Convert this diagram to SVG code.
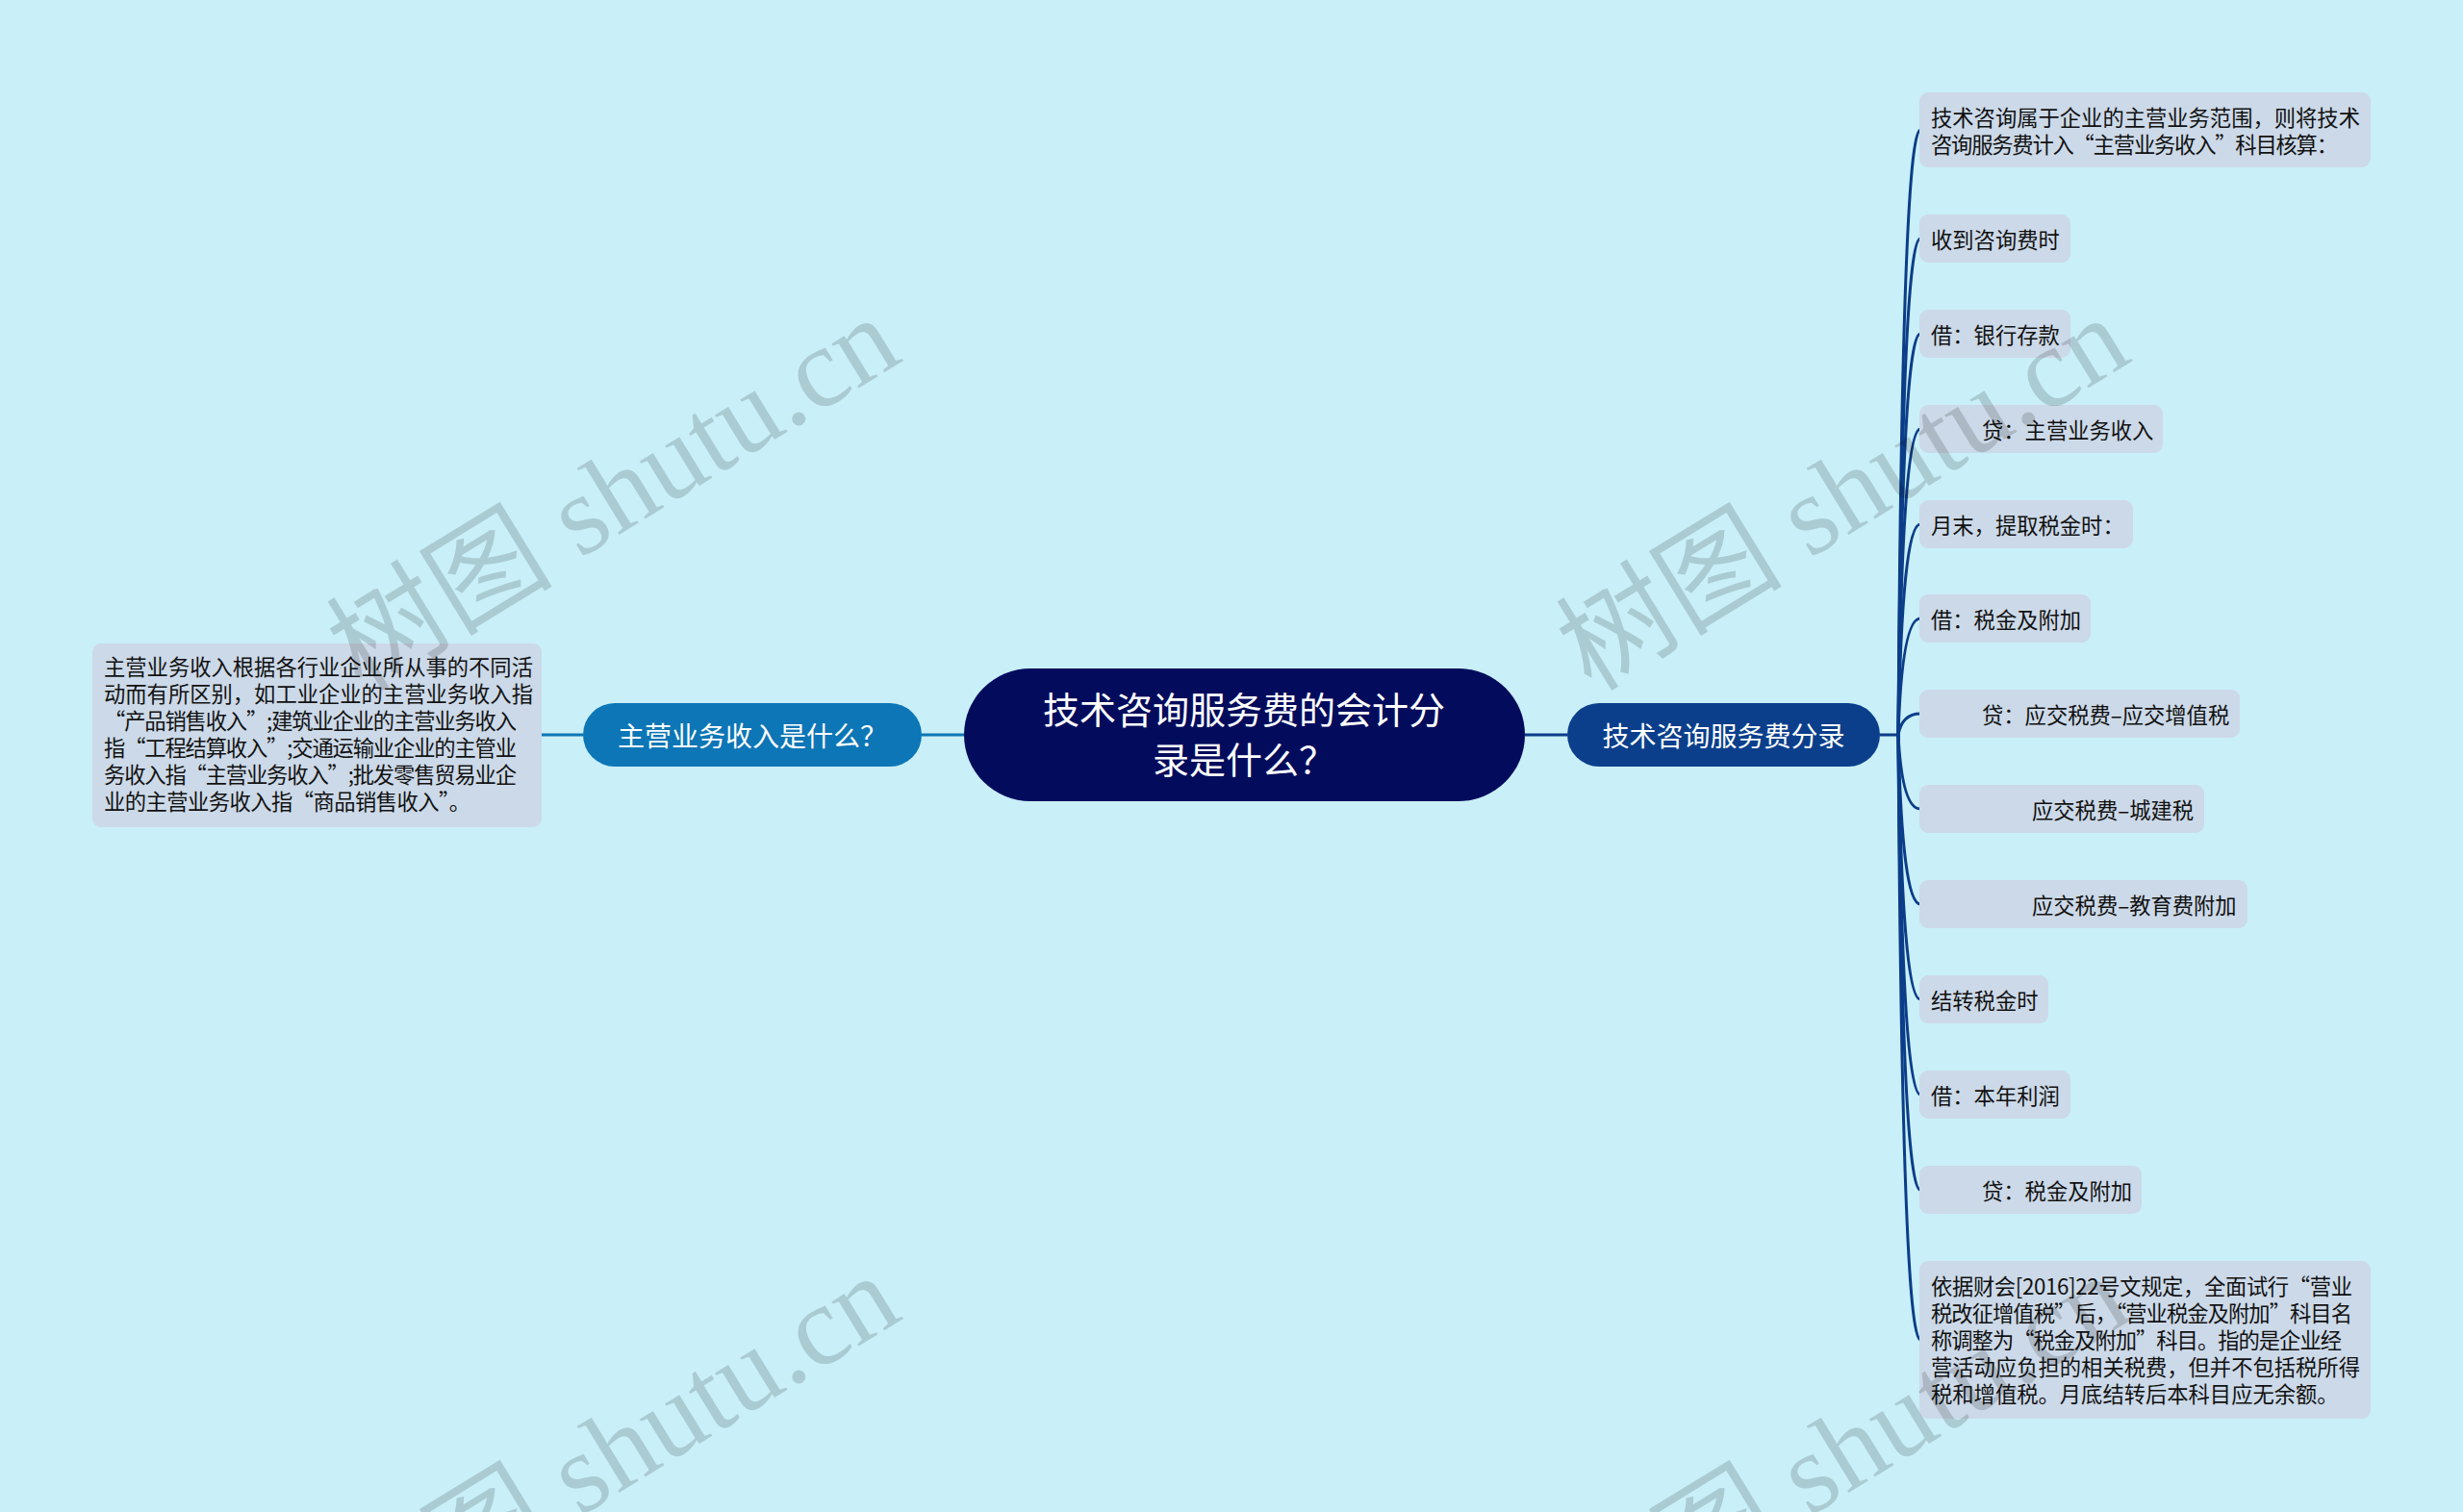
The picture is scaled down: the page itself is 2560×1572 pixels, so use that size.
<svg xmlns="http://www.w3.org/2000/svg" width="2560" height="1572" viewBox="0 0 2560 1572">
<style>
text{font-family:"Noto Sans CJK SC","Noto Sans",sans-serif}
.leaf{fill:#ccd9e8}
.lt{font-size:22.3px;fill:#111}
.mt{font-size:28px;fill:#fff}
.ct{font-size:38px;fill:#fff}
.rl{fill:none;stroke:#0b3d88;stroke-width:3}
.ll{fill:none;stroke:#0e76b6;stroke-width:3}
.wm{font-family:"Liberation Serif","Noto Sans CJK SC",serif;font-size:118px;fill:#000;fill-opacity:0.15}
</style>
<rect width="2560" height="1572" fill="#c9eff8"/>
<g id="connectors">
<path class="ll" d="M563 764H606M958 764H1002"/>
<path class="rl" d="M1585 764H1629M1954 764H1973"/>
<path class="rl" d="M1973 764Q1977 135 1996 135"/>
<path class="rl" d="M1973 764Q1977 248 1996 248"/>
<path class="rl" d="M1973 764Q1977 347 1996 347"/>
<path class="rl" d="M1973 764Q1977 446 1996 446"/>
<path class="rl" d="M1973 764Q1977 545 1996 545"/>
<path class="rl" d="M1973 764Q1977 643 1996 643"/>
<path class="rl" d="M1973 764Q1977 742 1996 742"/>
<path class="rl" d="M1973 764Q1977 841 1996 841"/>
<path class="rl" d="M1973 764Q1977 940 1996 940"/>
<path class="rl" d="M1973 764Q1977 1039 1996 1039"/>
<path class="rl" d="M1973 764Q1977 1138 1996 1138"/>
<path class="rl" d="M1973 764Q1977 1237 1996 1237"/>
<path class="rl" d="M1973 764Q1977 1393 1996 1393"/>
</g>
<g id="center">
<rect x="1002" y="695" width="583" height="138" rx="69" fill="#030c5c"/>
<text class="ct" x="1293" y="735" text-anchor="middle" dominant-baseline="central">技术咨询服务费的会计分</text>
<text class="ct" x="1293" y="787" text-anchor="middle" dominant-baseline="central">录是什么？</text>
</g>
<g id="main-left">
<rect x="606" y="731" width="352" height="66" rx="33" fill="#0d76b6"/>
<text class="mt" x="782" y="764" text-anchor="middle" dominant-baseline="central">主营业务收入是什么？</text>
</g>
<g id="main-right">
<rect x="1629" y="731" width="325" height="66" rx="33" fill="#0b3f8c"/>
<text class="mt" x="1791.5" y="764" text-anchor="middle" dominant-baseline="central">技术咨询服务费分录</text>
</g>
<g id="leaf-left">
<rect class="leaf" x="96" y="669" width="467" height="191" rx="9"/>
<text class="lt" x="108" y="692" dominant-baseline="central">主营业务收入根据各行业企业所从事的不同活</text>
<text class="lt" x="108" y="720" dominant-baseline="central">动而有所区别，如工业企业的主营业务收入指</text>
<text class="lt" x="108" y="748" dominant-baseline="central" textLength="429" lengthAdjust="spacing">“产品销售收入”;建筑业企业的主营业务收入</text>
<text class="lt" x="108" y="776" dominant-baseline="central" textLength="429" lengthAdjust="spacing">指“工程结算收入”;交通运输业企业的主管业</text>
<text class="lt" x="108" y="804" dominant-baseline="central" textLength="429" lengthAdjust="spacing">务收入指“主营业务收入”;批发零售贸易业企</text>
<text class="lt" x="108" y="832" dominant-baseline="central" textLength="381" lengthAdjust="spacing">业的主营业务收入指“商品销售收入”。</text>
</g>
<g id="leaf-r1">
<rect class="leaf" x="1995" y="96" width="469" height="78" rx="9"/>
<text class="lt" x="2007" y="120.5" dominant-baseline="central">技术咨询属于企业的主营业务范围，则将技术</text>
<text class="lt" x="2007" y="148.5" dominant-baseline="central" textLength="423" lengthAdjust="spacing">咨询服务费计入“主营业务收入”科目核算：</text>
</g>
<g id="leaf-r2"><rect class="leaf" x="1995" y="223" width="157" height="50" rx="9"/><text class="lt" x="2007" y="248" dominant-baseline="central">收到咨询费时</text></g>
<g id="leaf-r3"><rect class="leaf" x="1995" y="322" width="157" height="50" rx="9"/><text class="lt" x="2007" y="347" dominant-baseline="central">借：银行存款</text></g>
<g id="leaf-r4"><rect class="leaf" x="1995" y="421" width="253" height="50" rx="9"/><text class="lt" x="2060" y="446" dominant-baseline="central">贷：主营业务收入</text></g>
<g id="leaf-r5"><rect class="leaf" x="1995" y="520" width="222" height="50" rx="9"/><text class="lt" x="2007" y="545" dominant-baseline="central">月末，提取税金时：</text></g>
<g id="leaf-r6"><rect class="leaf" x="1995" y="618" width="178" height="50" rx="9"/><text class="lt" x="2007" y="643" dominant-baseline="central">借：税金及附加</text></g>
<g id="leaf-r7"><rect class="leaf" x="1995" y="717" width="333" height="50" rx="9"/><text class="lt" x="2060" y="742" dominant-baseline="central">贷：应交税费–应交增值税</text></g>
<g id="leaf-r8"><rect class="leaf" x="1995" y="816" width="296" height="50" rx="9"/><text class="lt" x="2112" y="841" dominant-baseline="central">应交税费–城建税</text></g>
<g id="leaf-r9"><rect class="leaf" x="1995" y="915" width="341" height="50" rx="9"/><text class="lt" x="2112" y="940" dominant-baseline="central">应交税费–教育费附加</text></g>
<g id="leaf-r10"><rect class="leaf" x="1995" y="1014" width="134" height="50" rx="9"/><text class="lt" x="2007" y="1039" dominant-baseline="central">结转税金时</text></g>
<g id="leaf-r11"><rect class="leaf" x="1995" y="1113" width="157" height="50" rx="9"/><text class="lt" x="2007" y="1138" dominant-baseline="central">借：本年利润</text></g>
<g id="leaf-r12"><rect class="leaf" x="1995" y="1212" width="231" height="50" rx="9"/><text class="lt" x="2060" y="1237" dominant-baseline="central">贷：税金及附加</text></g>
<g id="leaf-r13">
<rect class="leaf" x="1995" y="1311" width="469" height="164" rx="9"/>
<text class="lt" x="2007" y="1336" dominant-baseline="central" textLength="438" lengthAdjust="spacing">依据财会[2016]22号文规定，全面试行“营业</text>
<text class="lt" x="2007" y="1364" dominant-baseline="central" textLength="438" lengthAdjust="spacing">税改征增值税”后，“营业税金及附加”科目名</text>
<text class="lt" x="2007" y="1392" dominant-baseline="central" textLength="427" lengthAdjust="spacing">称调整为“税金及附加”科目。指的是企业经</text>
<text class="lt" x="2007" y="1420" dominant-baseline="central">营活动应负担的相关税费，但并不包括税所得</text>
<text class="lt" x="2007" y="1448" dominant-baseline="central">税和增值税。月底结转后本科目应无余额。</text>
</g>
<g id="watermark">
<text class="wm" transform="translate(376 720) rotate(-31.5)">树图 shutu.cn</text>
<text class="wm" transform="translate(1654 720) rotate(-31.5)">树图 shutu.cn</text>
<text class="wm" transform="translate(376 1716) rotate(-31.5)">树图 shutu.cn</text>
<text class="wm" transform="translate(1654 1716) rotate(-31.5)">树图 shutu.cn</text>
</g>
</svg>
